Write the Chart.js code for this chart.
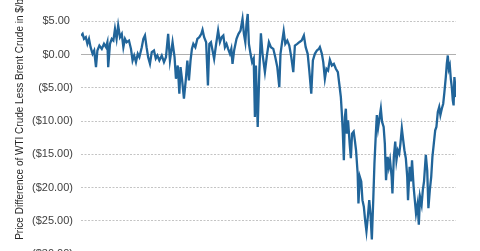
<!DOCTYPE html>
<html>
<head>
<meta charset="utf-8">
<script src="https://cdn.jsdelivr.net/npm/chart.js@4"></script>
<style>
  html, body { margin: 0; padding: 0; background: #fff; overflow: hidden; }
  #wrap { position: absolute; left: 0; top: -30px; width: 480px; height: 300px; }
</style>
</head>
<body>
<div id="wrap"><canvas id="chart" width="480" height="300"></canvas></div>
<script>
// WTI minus Brent spread, $/bbl. x = months since the start of the series
const months = [
  0.0, 0.4, 0.75, 1.2, 1.6, 2.0, 2.4, 2.9, 3.3, 3.75, 4.1, 4.6, 5.2, 5.75, 6.25, 6.6, 6.8, 7.25, 7.7, 8.1,
  8.5, 8.9, 9.3, 9.75, 10.2, 10.6, 11.0, 11.4, 12.0, 12.5, 12.9, 13.3, 13.75, 14.2, 14.6, 15.2, 15.6, 16.0, 16.4, 16.8,
  17.25, 17.7, 18.25, 18.7, 19.1, 19.6, 20.2, 20.75, 21.25, 21.8, 22.25, 22.9, 23.4, 23.75, 24.2, 24.6, 24.9, 25.3, 25.75, 26.2,
  26.6, 27.0, 27.4, 27.75, 28.1, 28.6, 29.1, 29.6, 30.1, 30.4, 30.8, 31.3, 31.75, 32.1, 32.5, 32.9, 33.3, 33.75, 34.3, 34.75,
  35.2, 35.6, 36.0, 36.4, 36.8, 37.25, 37.6, 37.9, 38.3, 38.9, 39.4, 39.9, 40.4, 40.75, 41.1, 41.4, 41.7, 42.0, 42.4, 42.8,
  43.2, 43.5, 43.75, 44.2, 44.6, 45.0, 45.4, 46.0, 46.5, 47.0, 47.5, 48.1, 48.6, 49.1, 49.6, 49.9, 50.3, 50.7, 51.1, 51.6,
  52.1, 52.6, 53.1, 53.5, 54.1, 54.6, 55.2, 55.75, 56.2, 56.7, 57.1, 57.6, 58.0, 58.5, 59.0, 59.5, 59.75, 60.25, 60.6, 61.0,
  61.4, 61.8, 62.25, 62.75, 63.25, 63.75, 64.25, 64.6, 65.0, 65.25, 65.5, 65.75, 66.0, 66.25, 66.5, 66.8, 67.2, 67.5, 67.8, 68.2,
  68.5, 68.8, 69.2, 69.4, 69.75, 70.1, 70.4, 70.75, 71.1, 71.4, 71.75, 72.1, 72.4, 72.75, 73.1, 73.4, 73.75, 74.0, 74.3, 74.7,
  75.0, 75.3, 75.7, 76.0, 76.3, 76.7, 77.0, 77.3, 77.7, 77.9, 78.25, 78.6, 78.9, 79.25, 79.6, 79.9, 80.25, 80.6, 80.9, 81.25,
  81.6, 81.8, 82.2, 82.5, 82.8, 83.2, 83.5, 83.8, 84.2, 84.5, 84.8, 85.2, 85.5, 85.8, 86.25, 86.6, 86.9, 87.25, 87.6, 87.9,
  88.25, 88.6, 88.9, 89.25, 89.6, 89.9, 90.25, 90.6, 90.9, 91.25, 91.5, 91.75, 92.0, 92.25, 92.5, 92.75, 93.0, 93.2, 93.4, 93.7,
  93.8
];
const spread = [
  2.84, 3.1, 2.35, 2.6, 1.6, 2.35, 1.1, 0.1, 0.6, -1.9, 0.6, 1.35, 0.85, 1.6, 1.1, 1.85, -1.9, 1.6, 2.35, 2.1,
  3.85, 2.35, 4.35, 2.6, 3.1, 1.1, 2.35, 1.85, 2.1, 0.85, -0.9, -0.15, -1.15, 0.1, -0.4, 1.1, 2.35, 2.85, 1.1, -0.4,
  -1.4, 0.35, 0.6, -0.6, -0.15, -0.9, -0.15, -1.15, -0.4, 3.1, -0.9, 1.85, -0.4, -3.65, -1.65, -5.9, -1.9, -3.9, -6.65, -3.9,
  -0.9, -3.9, -0.9, 0.85, 1.6, 1.1, 2.35, 2.6, 3.1, 3.7, 2.6, 1.85, -4.65, 1.6, 1.85, 0.6, -0.65, 1.35, 3.6, 1.85,
  2.6, 2.85, 1.1, 1.6, 0.85, 0.1, 0.85, -1.4, 0.6, 2.35, 3.1, 3.6, 5.35, 3.1, 1.85, 4.6, 6.1, 1.6, 0.1, -1.15,
  -0.6, -9.4, -1.65, -10.9, -2.65, 3.2, 0.1, -2.65, -0.15, 1.85, 1.1, 0.85, -0.4, -1.9, -4.9, 0.1, 1.85, 3.5, 1.6, 2.1,
  1.35, -0.4, -2.65, 1.35, 1.6, 1.85, 2.1, 2.85, 1.1, 0.1, -2.4, -5.9, -0.9, 0.1, 0.6, 0.85, 1.1, 0.1, -1.15, -3.65,
  -2.15, -2.4, -0.8, -1.65, -1.4, -2.15, -2.65, -4.4, -6.4, -8.9, -11.9, -15.9, -9.4, -8.15, -11.9, -9.9, -13.4, -15.6, -11.9, -11.6,
  -12.9, -14.4, -17.9, -22.4, -18.4, -19.1, -21.9, -22.9, -25.1, -26.6, -24.4, -21.9, -23.9, -27.8, -21.9, -16.4, -11.9, -9.1, -11.1, -9.4,
  -8.15, -10.1, -10.9, -13.4, -18.9, -15.4, -16.9, -15.9, -18.4, -20.9, -15.4, -13.1, -15.9, -14.4, -14.9, -13.4, -11.1, -12.9, -14.4, -15.6,
  -18.4, -21.9, -16.9, -19.1, -15.9, -19.9, -21.9, -23.9, -22.4, -25.6, -21.4, -22.6, -20.4, -19.1, -15.1, -17.4, -23.1, -20.4, -18.4, -15.4,
  -13.4, -11.4, -10.9, -8.65, -7.9, -9.1, -8.15, -7.4, -5.65, -3.4, -1.4, -0.15, -2.15, -1.65, -3.65, -4.9, -6.9, -7.65, -3.4, -5.4,
  -6.4
];
const yTicks = [10, 5, 0, -5, -10, -15, -20, -25, -30];
const yTitle = 'Price Difference of WTI Crude Less Brent Crude in $/bbl';

function money(v) {
  return v < 0 ? '($' + Math.abs(v).toFixed(2) + ')' : '$' + v.toFixed(2) + ' ';
}

new Chart(document.getElementById('chart'), {
  type: 'line',
  data: {
    datasets: [{
      data: months.map((m, i) => ({ x: m, y: spread[i] })),
      borderColor: '#21659a',
      borderWidth: 2.3,
      pointRadius: 0,
      tension: 0,
    }]
  },
  options: {
    responsive: false,
    animation: false,
    layout: { padding: { top: 18, bottom: 16, left: 0, right: 24 } },
    plugins: { legend: { display: false }, tooltip: { enabled: false } },
    scales: {
      x: { type: 'linear', min: 0, max: 93.8, display: false },
      y: {
        min: -30,
        max: 10,
        afterBuildTicks: s => { s.ticks = yTicks.map(v => ({ value: v })); },
        afterFit: s => { s.width = 81; },
        grid: {
          drawTicks: false,
          color: c => (c.tick && c.tick.value === 0 ? '#b0b0b0' : '#c4c4c4'),
        },
        border: {
          display: false,
          dash: c => (c.tick && c.tick.value === 0 ? [] : [2, 1.5]),
        },
        ticks: {
          padding: 8,
          color: '#404040',
          font: { size: 11, family: 'Arial, "Liberation Sans"' },
          callback: v => money(v),
        },
        title: {
          display: true,
          text: '    ' + yTitle,
          color: '#262626',
          padding: { top: 14, bottom: 0 },
          font: { size: 10, family: 'Arial, "Liberation Sans"' },
        }
      }
    }
  }
});
</script>
</body>
</html>
